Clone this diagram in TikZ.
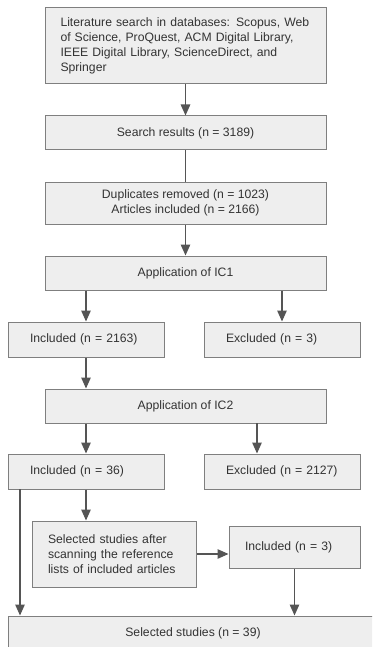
\documentclass[tikz,border=0pt]{standalone}
\usepackage{fontspec}
\setmainfont{Liberation Sans}
\usepackage{tikz}
\usetikzlibrary{arrows.meta}
\definecolor{boxfill}{HTML}{EEEEEE}
\definecolor{boxline}{HTML}{7F7F7F}
\definecolor{arrline}{HTML}{555555}
\definecolor{txt}{HTML}{333333}

\begin{document}
\begin{tikzpicture}[x=1pt, y=-1pt,
    box/.style={draw=boxline, fill=boxfill, line width=1pt, text=txt,
      font=\fontsize{12.2}{15}\selectfont, inner sep=0pt},
    arr/.style={draw=arrline, line width=1.3pt,
      -{Triangle[length=11pt,width=9.5pt]}},
    lin/.style={draw=arrline, line width=1.3pt}]
    \clip (0,0) rectangle (372,647);
    \node[box, minimum width=281pt, minimum height=76pt, text width=250pt,
      inner xsep=15.5pt, align=left] (a) at (185.5, 46)
      {Literature search in databases: Scopus, Web\\ of Science, ProQuest, ACM Digital Library,\\ IEEE Digital Library, ScienceDirect, and\\ Springer};
    \node[box, minimum width=281pt, minimum height=34pt] (b) at (185.5, 133) {Search results (n = 3189)};
    \node[box, minimum width=281pt, minimum height=42pt, align=center] (c) at (185.5, 203)
      {Duplicates removed (n = 1023)\\ Articles included (n = 2166)};
    \node[box, minimum width=281pt, minimum height=34pt] (d) at (185.5, 273) {Application of IC1};
    \node[box, minimum width=156pt, minimum height=35pt, text width=112pt,
      inner xsep=22pt, align=left] (e) at (86, 339.5) {Included (n = 2163)};
    \node[box, minimum width=156pt, minimum height=35pt, text width=112pt,
      inner xsep=22pt, align=left] (f) at (282, 339.5) {Excluded (n = 3)};
    \node[box, minimum width=281pt, minimum height=34pt] (g) at (185.5, 406) {Application of IC2};
    \node[box, minimum width=156pt, minimum height=35pt, text width=112pt,
      inner xsep=22pt, align=left] (h) at (86, 471.5) {Included (n = 36)};
    \node[box, minimum width=156pt, minimum height=35pt, text width=112pt,
      inner xsep=22pt, align=left] (i) at (282, 471.5) {Excluded (n = 2127)};
    \node[box, minimum width=164pt, minimum height=66pt, text width=132pt,
      inner xsep=16pt, align=left] (j) at (114, 554)
      {Selected studies after\\ scanning the reference\\ lists of included articles};
    \node[box, minimum width=131pt, minimum height=42pt, text width=99pt,
      inner xsep=16pt, align=left] (k) at (294.5, 547) {Included (n = 3)};
    \node[box, minimum width=370pt, minimum height=34pt] (l) at (193, 633) {Selected studies (n = 39)};
    \coordinate (m) at (257, 423);
    \coordinate (n) at (20, 489);
    \draw [arr] (a) to (b);
    \draw [lin] (b) to (c);
    \draw [arr] (c) to (d);
    \draw [arr] (d.south -| e.north) to (e.north);
    \draw [arr] (d.south -| f.north) to (f.north);
    \draw [arr] (e.south) to (e.south |- g.north);
    \draw [arr] (g.south -| h.north) to (h.north);
    \draw [arr] (m) to (m |- i.north);
    \draw [arr] (h.south) to (h.south |- j.north);
    \draw [arr] (n) to (n |- l.north);
    \draw [arr] (j.east) to (j.east -| k.west);
    \draw [arr] (k.south) to (k.south |- l.north);
  \end{tikzpicture}
\end{document}
